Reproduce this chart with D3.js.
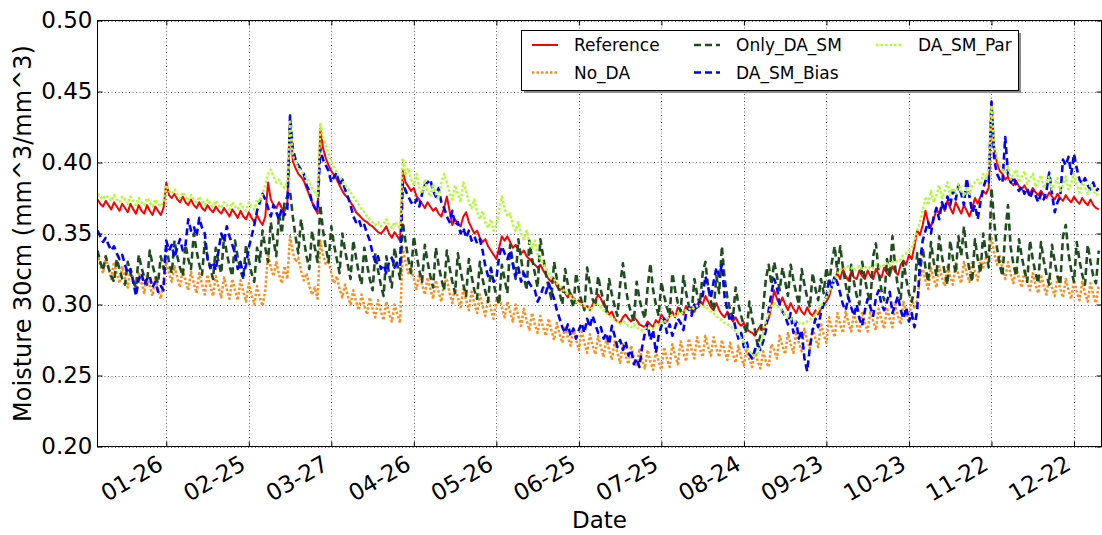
<!DOCTYPE html>
<html>
<head>
<meta charset="utf-8">
<script src="https://cdn.jsdelivr.net/npm/d3@7"></script>
<style>
  html, body { margin: 0; padding: 0; background: #ffffff; }
  svg { display: block; font-family: "DejaVu Sans", sans-serif; }
</style>
</head>
<body>
<svg id="chart" width="1102" height="535"></svg>
<script>
// Daily soil moisture at 30 cm, one value per day from 1 January to 31 December.
const startDay = "2015-01-01";
const endDay = "2016-01-01";

const xTickLabels = ["01-26", "02-25", "03-27", "04-26", "05-26", "06-25",
                     "07-25", "08-24", "09-23", "10-23", "11-22", "12-22"];
const yTickValues = [0.20, 0.25, 0.30, 0.35, 0.40, 0.45, 0.50];

const seriesNames = ["Reference", "No_DA", "Only_DA_SM", "DA_SM_Bias", "DA_SM_Par"];

const reference = [
  0.374,0.371,0.369,0.373,0.370,0.367,0.372,0.369,0.366,0.371,
  0.368,0.365,0.371,0.367,0.364,0.370,0.366,0.364,0.370,0.366,
  0.363,0.369,0.366,0.363,0.368,0.386,0.377,0.375,0.378,0.374,
  0.372,0.376,0.372,0.370,0.374,0.370,0.368,0.372,0.368,0.366,
  0.370,0.367,0.365,0.369,0.366,0.364,0.368,0.365,0.362,0.367,
  0.364,0.361,0.366,0.362,0.360,0.365,0.361,0.358,0.363,0.359,
  0.356,0.362,0.386,0.374,0.370,0.368,0.372,0.368,0.366,0.370,
  0.432,0.401,0.396,0.392,0.390,0.387,0.382,0.377,0.372,0.368,
  0.364,0.424,0.410,0.403,0.398,0.394,0.391,0.388,0.384,0.380,
  0.377,0.375,0.372,0.369,0.365,0.363,0.361,0.359,0.358,0.356,
  0.355,0.353,0.351,0.350,0.352,0.355,0.350,0.347,0.351,0.348,
  0.345,0.394,0.386,0.383,0.380,0.382,0.376,0.374,0.371,0.368,
  0.372,0.369,0.366,0.368,0.364,0.362,0.368,0.376,0.366,0.356,
  0.360,0.357,0.355,0.362,0.365,0.358,0.354,0.350,0.352,0.347,
  0.344,0.346,0.341,0.338,0.335,0.332,0.340,0.348,0.345,0.348,
  0.344,0.340,0.342,0.339,0.336,0.338,0.334,0.332,0.330,0.328,
  0.326,0.328,0.324,0.321,0.318,0.316,0.318,0.313,0.310,0.312,
  0.308,0.305,0.308,0.304,0.301,0.303,0.300,0.298,0.299,0.296,
  0.300,0.303,0.307,0.304,0.300,0.297,0.293,0.295,0.290,0.288,
  0.287,0.291,0.293,0.290,0.288,0.291,0.289,0.286,0.285,0.284,
  0.288,0.286,0.284,0.289,0.287,0.293,0.290,0.288,0.292,0.295,
  0.291,0.298,0.296,0.293,0.299,0.296,0.298,0.295,0.300,0.303,
  0.300,0.306,0.302,0.298,0.296,0.301,0.296,0.293,0.291,0.295,
  0.291,0.288,0.291,0.287,0.285,0.287,0.283,0.281,0.280,0.278,
  0.282,0.285,0.281,0.287,0.290,0.299,0.310,0.304,0.300,0.305,
  0.300,0.296,0.301,0.297,0.294,0.299,0.295,0.293,0.298,0.294,
  0.292,0.296,0.293,0.297,0.300,0.302,0.306,0.313,0.318,0.322,
  0.318,0.325,0.320,0.317,0.323,0.319,0.318,0.324,0.320,0.318,
  0.324,0.320,0.318,0.325,0.321,0.319,0.326,0.322,0.320,0.327,
  0.323,0.321,0.328,0.331,0.328,0.335,0.332,0.341,0.352,0.349,
  0.356,0.366,0.358,0.355,0.360,0.367,0.364,0.370,0.366,0.373,
  0.368,0.364,0.372,0.368,0.364,0.370,0.366,0.362,0.368,0.375,
  0.371,0.376,0.380,0.378,0.382,0.442,0.410,0.400,0.394,0.392,
  0.388,0.390,0.386,0.384,0.387,0.383,0.381,0.384,0.380,0.378,
  0.382,0.379,0.377,0.380,0.377,0.375,0.379,0.376,0.374,0.378,
  0.375,0.373,0.377,0.374,0.372,0.376,0.373,0.371,0.375,0.372,
  0.370,0.374,0.370,0.368,0.367
];

const noDA = [
  0.336,0.328,0.322,0.333,0.325,0.318,0.330,0.322,0.315,0.327,
  0.319,0.312,0.325,0.317,0.310,0.323,0.315,0.308,0.321,0.313,
  0.306,0.319,0.311,0.304,0.317,0.330,0.322,0.316,0.327,0.319,
  0.312,0.325,0.317,0.310,0.323,0.315,0.308,0.322,0.314,0.307,
  0.321,0.313,0.306,0.320,0.312,0.305,0.319,0.311,0.304,0.318,
  0.310,0.303,0.317,0.309,0.302,0.315,0.307,0.300,0.313,0.305,
  0.299,0.310,0.336,0.326,0.320,0.330,0.321,0.315,0.327,0.318,
  0.348,0.337,0.330,0.333,0.324,0.317,0.322,0.313,0.307,0.312,
  0.304,0.345,0.335,0.328,0.331,0.322,0.315,0.320,0.311,0.305,
  0.314,0.306,0.300,0.310,0.302,0.296,0.307,0.299,0.293,0.305,
  0.297,0.291,0.303,0.295,0.289,0.302,0.294,0.288,0.300,0.293,
  0.287,0.340,0.330,0.322,0.326,0.318,0.311,0.322,0.314,0.307,
  0.319,0.311,0.304,0.317,0.309,0.302,0.315,0.318,0.308,0.301,
  0.313,0.305,0.298,0.311,0.303,0.296,0.309,0.301,0.294,0.307,
  0.299,0.292,0.305,0.297,0.290,0.303,0.306,0.298,0.291,0.302,
  0.295,0.288,0.300,0.292,0.285,0.297,0.289,0.282,0.294,0.286,
  0.280,0.292,0.284,0.278,0.290,0.282,0.275,0.287,0.279,0.273,
  0.285,0.277,0.271,0.283,0.275,0.268,0.281,0.273,0.266,0.279,
  0.271,0.265,0.278,0.270,0.263,0.276,0.268,0.261,0.274,0.266,
  0.259,0.272,0.264,0.258,0.271,0.263,0.256,0.269,0.261,0.255,
  0.268,0.260,0.254,0.267,0.260,0.254,0.270,0.262,0.256,0.272,
  0.264,0.258,0.274,0.266,0.260,0.276,0.268,0.262,0.277,0.269,
  0.263,0.278,0.270,0.264,0.277,0.269,0.263,0.275,0.267,0.261,
  0.273,0.265,0.259,0.271,0.263,0.257,0.269,0.261,0.256,0.268,
  0.260,0.255,0.267,0.260,0.256,0.272,0.268,0.262,0.278,0.271,
  0.265,0.280,0.272,0.266,0.281,0.273,0.267,0.283,0.275,0.269,
  0.284,0.276,0.270,0.287,0.279,0.273,0.291,0.283,0.277,0.294,
  0.286,0.280,0.295,0.287,0.281,0.294,0.286,0.280,0.295,0.287,
  0.281,0.296,0.288,0.282,0.297,0.289,0.283,0.298,0.290,0.284,
  0.300,0.292,0.286,0.302,0.294,0.288,0.305,0.297,0.303,0.318,
  0.325,0.317,0.311,0.326,0.318,0.312,0.327,0.319,0.313,0.328,
  0.320,0.314,0.329,0.321,0.315,0.330,0.322,0.316,0.331,0.323,
  0.317,0.332,0.326,0.333,0.338,0.347,0.336,0.328,0.334,0.325,
  0.318,0.330,0.321,0.315,0.327,0.318,0.312,0.324,0.316,0.310,
  0.322,0.314,0.308,0.321,0.313,0.307,0.320,0.312,0.306,0.319,
  0.311,0.305,0.318,0.310,0.304,0.317,0.309,0.303,0.316,0.308,
  0.302,0.315,0.307,0.301,0.314
];

const onlyDASM = [
  0.338,0.330,0.324,0.334,0.326,0.320,0.316,0.332,0.325,0.318,
  0.314,0.330,0.322,0.316,0.312,0.335,0.326,0.319,0.314,0.338,
  0.328,0.320,0.315,0.334,0.325,0.340,0.330,0.322,0.345,0.334,
  0.326,0.320,0.342,0.332,0.325,0.350,0.338,0.328,0.321,0.344,
  0.334,0.326,0.318,0.340,0.330,0.322,0.348,0.336,0.327,0.320,
  0.345,0.333,0.324,0.318,0.342,0.331,0.322,0.316,0.340,0.330,
  0.352,0.340,0.330,0.358,0.345,0.334,0.364,0.350,0.372,0.376,
  0.380,0.362,0.348,0.336,0.360,0.346,0.334,0.325,0.352,0.340,
  0.330,0.370,0.352,0.340,0.330,0.355,0.342,0.332,0.322,0.350,
  0.338,0.328,0.318,0.345,0.333,0.322,0.314,0.340,0.328,0.318,
  0.310,0.336,0.324,0.314,0.306,0.334,0.322,0.312,0.340,0.328,
  0.318,0.358,0.344,0.332,0.322,0.348,0.335,0.324,0.316,0.342,
  0.330,0.320,0.312,0.340,0.328,0.318,0.310,0.338,0.326,0.316,
  0.308,0.336,0.324,0.314,0.306,0.332,0.320,0.310,0.304,0.330,
  0.318,0.309,0.302,0.326,0.315,0.306,0.300,0.328,0.318,0.308,
  0.342,0.330,0.318,0.346,0.332,0.320,0.310,0.345,0.332,0.322,
  0.312,0.346,0.334,0.322,0.312,0.304,0.330,0.318,0.308,0.300,
  0.325,0.314,0.305,0.298,0.322,0.310,0.302,0.296,0.326,0.314,
  0.304,0.298,0.320,0.310,0.302,0.295,0.318,0.307,0.299,0.292,
  0.314,0.329,0.312,0.301,0.294,0.288,0.316,0.304,0.296,0.290,
  0.312,0.329,0.310,0.300,0.292,0.316,0.306,0.298,0.292,0.322,
  0.310,0.301,0.295,0.320,0.308,0.299,0.294,0.318,0.307,0.300,
  0.322,0.330,0.312,0.302,0.296,0.320,0.308,0.341,0.318,0.305,
  0.296,0.290,0.312,0.300,0.292,0.285,0.280,0.302,0.290,0.282,
  0.271,0.278,0.298,0.318,0.328,0.314,0.330,0.320,0.310,0.326,
  0.316,0.306,0.328,0.317,0.308,0.300,0.325,0.314,0.305,0.298,
  0.322,0.311,0.303,0.318,0.308,0.326,0.315,0.330,0.341,0.322,
  0.341,0.326,0.314,0.304,0.328,0.316,0.306,0.300,0.330,0.318,
  0.308,0.302,0.334,0.343,0.322,0.310,0.303,0.332,0.320,0.348,
  0.326,0.312,0.304,0.330,0.318,0.308,0.302,0.310,0.336,0.322,
  0.340,0.326,0.316,0.344,0.330,0.320,0.348,0.334,0.322,0.314,
  0.345,0.332,0.322,0.348,0.334,0.355,0.336,0.324,0.316,0.346,
  0.332,0.322,0.350,0.336,0.326,0.382,0.358,0.340,0.328,0.320,
  0.350,0.370,0.340,0.328,0.320,0.346,0.334,0.324,0.316,0.345,
  0.332,0.322,0.315,0.344,0.331,0.321,0.314,0.342,0.330,0.320,
  0.314,0.348,0.356,0.336,0.324,0.316,0.344,0.331,0.321,0.314,
  0.342,0.330,0.320,0.315,0.338
];

const daSMBias = [
  0.352,0.348,0.344,0.347,0.342,0.338,0.341,0.336,0.332,0.335,
  0.328,0.322,0.325,0.316,0.306,0.318,0.322,0.314,0.318,0.320,
  0.312,0.316,0.309,0.313,0.310,0.345,0.338,0.342,0.333,0.340,
  0.346,0.338,0.342,0.360,0.352,0.355,0.348,0.361,0.354,0.350,
  0.332,0.326,0.330,0.324,0.338,0.350,0.344,0.355,0.348,0.342,
  0.336,0.325,0.330,0.320,0.328,0.340,0.348,0.356,0.366,0.372,
  0.378,0.374,0.368,0.362,0.370,0.365,0.360,0.368,0.363,0.367,
  0.433,0.410,0.402,0.398,0.395,0.392,0.384,0.380,0.372,0.368,
  0.366,0.410,0.402,0.398,0.394,0.386,0.390,0.393,0.384,0.388,
  0.381,0.376,0.370,0.362,0.358,0.360,0.354,0.356,0.350,0.345,
  0.336,0.330,0.334,0.325,0.328,0.322,0.330,0.333,0.326,0.330,
  0.328,0.386,0.380,0.376,0.372,0.370,0.374,0.369,0.378,0.384,
  0.386,0.388,0.380,0.376,0.382,0.372,0.368,0.362,0.358,0.366,
  0.356,0.358,0.350,0.354,0.347,0.352,0.345,0.348,0.343,0.346,
  0.338,0.327,0.320,0.325,0.316,0.318,0.334,0.341,0.336,0.332,
  0.338,0.328,0.320,0.326,0.316,0.322,0.318,0.315,0.312,0.310,
  0.302,0.306,0.312,0.308,0.315,0.310,0.304,0.296,0.290,0.284,
  0.280,0.286,0.278,0.283,0.276,0.282,0.287,0.280,0.290,0.284,
  0.292,0.286,0.280,0.284,0.276,0.280,0.272,0.285,0.278,0.270,
  0.275,0.268,0.274,0.264,0.268,0.258,0.262,0.256,0.270,0.280,
  0.286,0.275,0.282,0.266,0.278,0.285,0.290,0.280,0.286,0.278,
  0.284,0.290,0.287,0.282,0.294,0.298,0.292,0.300,0.296,0.302,
  0.306,0.320,0.312,0.305,0.316,0.326,0.320,0.328,0.305,0.296,
  0.288,0.292,0.283,0.276,0.280,0.270,0.274,0.265,0.262,0.268,
  0.272,0.268,0.274,0.282,0.296,0.308,0.318,0.312,0.300,0.295,
  0.292,0.286,0.294,0.280,0.288,0.276,0.282,0.262,0.253,0.270,
  0.282,0.290,0.284,0.294,0.300,0.306,0.318,0.312,0.320,0.315,
  0.308,0.300,0.296,0.305,0.298,0.292,0.300,0.290,0.285,0.296,
  0.304,0.298,0.292,0.305,0.310,0.300,0.296,0.302,0.309,0.294,
  0.300,0.306,0.296,0.290,0.298,0.288,0.294,0.284,0.296,0.330,
  0.345,0.352,0.358,0.350,0.362,0.368,0.360,0.372,0.366,0.376,
  0.370,0.380,0.374,0.384,0.378,0.370,0.389,0.376,0.365,0.370,
  0.360,0.372,0.382,0.388,0.386,0.443,0.402,0.392,0.388,0.386,
  0.418,0.392,0.386,0.390,0.384,0.380,0.383,0.378,0.382,0.375,
  0.380,0.377,0.372,0.378,0.374,0.380,0.393,0.378,0.365,0.372,
  0.376,0.402,0.398,0.404,0.392,0.406,0.396,0.388,0.385,0.389,
  0.384,0.381,0.386,0.380,0.382
];

const daSMPar = [
  0.378,0.376,0.374,0.377,0.375,0.373,0.377,0.374,0.372,0.376,
  0.374,0.371,0.376,0.373,0.370,0.375,0.372,0.370,0.375,0.372,
  0.369,0.374,0.371,0.369,0.373,0.384,0.380,0.378,0.381,0.377,
  0.375,0.379,0.376,0.373,0.377,0.374,0.372,0.376,0.373,0.370,
  0.374,0.371,0.369,0.373,0.370,0.368,0.372,0.370,0.367,0.372,
  0.369,0.367,0.371,0.368,0.366,0.372,0.369,0.367,0.374,0.372,
  0.378,0.384,0.392,0.395,0.390,0.386,0.388,0.384,0.382,0.386,
  0.430,0.405,0.400,0.396,0.394,0.392,0.389,0.386,0.382,0.379,
  0.376,0.428,0.418,0.412,0.406,0.401,0.397,0.393,0.390,0.387,
  0.384,0.382,0.379,0.376,0.373,0.370,0.367,0.365,0.362,0.360,
  0.358,0.356,0.358,0.355,0.357,0.360,0.356,0.354,0.358,0.356,
  0.353,0.403,0.392,0.396,0.388,0.384,0.392,0.382,0.378,0.388,
  0.380,0.376,0.385,0.378,0.374,0.386,0.392,0.386,0.378,0.374,
  0.384,0.378,0.372,0.386,0.380,0.372,0.368,0.374,0.365,0.360,
  0.366,0.358,0.354,0.360,0.352,0.356,0.366,0.376,0.368,0.362,
  0.364,0.356,0.352,0.358,0.350,0.346,0.352,0.344,0.340,0.345,
  0.335,0.332,0.329,0.326,0.322,0.319,0.318,0.315,0.313,0.311,
  0.309,0.307,0.306,0.304,0.302,0.301,0.300,0.299,0.298,0.296,
  0.298,0.301,0.300,0.298,0.296,0.294,0.292,0.291,0.289,0.288,
  0.286,0.288,0.287,0.285,0.284,0.286,0.284,0.283,0.282,0.283,
  0.285,0.284,0.283,0.286,0.285,0.288,0.287,0.290,0.291,0.293,
  0.292,0.294,0.293,0.295,0.296,0.297,0.296,0.298,0.299,0.300,
  0.298,0.299,0.297,0.295,0.294,0.292,0.290,0.289,0.287,0.286,
  0.285,0.283,0.281,0.279,0.276,0.273,0.270,0.267,0.265,0.264,
  0.266,0.272,0.280,0.288,0.294,0.298,0.301,0.299,0.297,0.295,
  0.293,0.292,0.290,0.289,0.288,0.287,0.286,0.287,0.288,0.289,
  0.291,0.293,0.296,0.299,0.302,0.305,0.309,0.313,0.318,0.322,
  0.324,0.326,0.325,0.327,0.326,0.324,0.326,0.327,0.325,0.326,
  0.327,0.325,0.326,0.328,0.327,0.326,0.328,0.329,0.327,0.330,
  0.331,0.330,0.332,0.335,0.336,0.338,0.340,0.345,0.352,0.358,
  0.366,0.376,0.370,0.380,0.372,0.377,0.384,0.375,0.380,0.386,
  0.377,0.382,0.378,0.385,0.380,0.376,0.383,0.378,0.384,0.386,
  0.388,0.384,0.392,0.389,0.396,0.440,0.412,0.404,0.398,0.395,
  0.393,0.397,0.388,0.392,0.395,0.386,0.390,0.394,0.385,0.388,
  0.392,0.383,0.387,0.391,0.382,0.386,0.390,0.381,0.385,0.389,
  0.380,0.384,0.390,0.381,0.385,0.392,0.384,0.379,0.386,0.382,
  0.378,0.384,0.380,0.377,0.379
];

// Line appearance per series
const lineStyle = {
  "Reference":  { color: "#ff0000", width: 2,   dash: null },
  "No_DA":      { color: "#ff8c1a", width: 2.5, dash: "2.5,2" },
  "Only_DA_SM": { color: "#1e4d1e", width: 2.6, dash: "7,4" },
  "DA_SM_Bias": { color: "#0000ff", width: 2.6, dash: "7,4" },
  "DA_SM_Par":  { color: "#adff2f", width: 2.5, dash: "2.5,2" }
};

const seriesValues = {
  "Reference": reference,
  "No_DA": noDA,
  "Only_DA_SM": onlyDASM,
  "DA_SM_Bias": daSMBias,
  "DA_SM_Par": daSMPar
};

const svg = d3.select("#chart");
const W = 1102, H = 535;
const plot = { left: 97.5, right: 1101.5, top: 20.5, bottom: 446.5 };

const parseDay = d3.utcParse("%Y-%m-%d");
const t0 = parseDay(startDay);
const t1 = parseDay(endDay);
const year = startDay.slice(0, 4);
const days = reference.map((_, i) => d3.utcDay.offset(t0, i));
const tickDates = xTickLabels.map(s => parseDay(year + "-" + s));

const x = d3.scaleUtc().domain([t0, t1]).range([plot.left, plot.right]);
const y = d3.scaleLinear().domain([0.20, 0.50]).range([plot.bottom, plot.top]);

svg.append("rect").attr("width", W).attr("height", H).attr("fill", "#ffffff");

// Dotted grid
const grid = svg.append("g").attr("stroke", "#333").attr("stroke-width", 1)
  .attr("stroke-dasharray", "1,2.5").attr("stroke-opacity", 0.75);
grid.selectAll("line.v").data(tickDates).join("line").attr("class", "v")
  .attr("x1", d => Math.round(x(d)) + 0.5).attr("x2", d => Math.round(x(d)) + 0.5)
  .attr("y1", plot.top).attr("y2", plot.bottom);
grid.selectAll("line.h").data(yTickValues).join("line").attr("class", "h")
  .attr("x1", plot.left).attr("x2", plot.right)
  .attr("y1", d => Math.round(y(d)) + 0.5).attr("y2", d => Math.round(y(d)) + 0.5);

// Series lines
svg.append("clipPath").attr("id", "plotClip").append("rect")
  .attr("x", plot.left).attr("y", plot.top)
  .attr("width", plot.right - plot.left).attr("height", plot.bottom - plot.top);

const line = d3.line().x((d, i) => x(days[i])).y(d => y(d));
const lines = svg.append("g").attr("clip-path", "url(#plotClip)");
seriesNames.forEach(name => {
  const s = lineStyle[name];
  lines.append("path").datum(seriesValues[name])
    .attr("d", line).attr("fill", "none")
    .attr("stroke", s.color).attr("stroke-width", s.width)
    .attr("stroke-dasharray", s.dash).attr("stroke-linejoin", "round");
});

// Axes with inward ticks on all four sides
const fontSize = 23;
const xAxis = svg.append("g").attr("transform", `translate(0,${plot.bottom})`)
  .call(d3.axisBottom(x).tickValues(tickDates).tickFormat(d3.utcFormat("%m-%d"))
    .tickSizeInner(-5).tickSizeOuter(0));
xAxis.selectAll("text")
  .attr("x", null).attr("y", null).attr("dy", null)
  .attr("text-anchor", "end")
  .attr("transform", "translate(-2,22) rotate(-30)");

svg.append("g").attr("transform", `translate(0,${plot.top})`)
  .call(d3.axisTop(x).tickValues(tickDates).tickFormat("").tickSizeInner(-5).tickSizeOuter(0));

svg.append("g").attr("transform", `translate(${plot.left},0)`)
  .call(d3.axisLeft(y).tickValues(yTickValues).tickFormat(d3.format(".2f"))
    .tickSizeInner(-5).tickSizeOuter(0).tickPadding(5));

svg.append("g").attr("transform", `translate(${plot.right},0)`)
  .call(d3.axisRight(y).tickValues(yTickValues).tickFormat("").tickSizeInner(-5).tickSizeOuter(0));

svg.selectAll(".domain").remove();
svg.selectAll(".tick line").attr("stroke", "#000").attr("stroke-width", 1);
svg.selectAll(".tick text").attr("font-size", fontSize)
  .attr("font-family", "'DejaVu Sans', sans-serif").attr("fill", "#000");

// Plot frame
svg.append("rect")
  .attr("x", plot.left).attr("y", plot.top)
  .attr("width", plot.right - plot.left).attr("height", plot.bottom - plot.top)
  .attr("fill", "none").attr("stroke", "#000").attr("stroke-width", 1);

// Axis titles
svg.append("text").attr("x", (plot.left + plot.right) / 2).attr("y", 528)
  .attr("text-anchor", "middle").attr("font-size", fontSize).text("Date");
svg.append("text")
  .attr("transform", `translate(31,${(plot.top + plot.bottom) / 2}) rotate(-90)`)
  .attr("text-anchor", "middle").attr("font-size", 24)
  .text("Moisture 30cm (mm^3/mm^3)");

// Legend, three columns filled column by column
const legend = svg.append("g");
const lg = { x: 521.5, y: 30.5, w: 497, h: 60 };
legend.append("rect").attr("x", lg.x + 2.5).attr("y", lg.y + 2.5)
  .attr("width", lg.w).attr("height", lg.h).attr("fill", "#8c8c8c");
legend.append("rect").attr("x", lg.x).attr("y", lg.y)
  .attr("width", lg.w).attr("height", lg.h)
  .attr("fill", "#ffffff").attr("stroke", "#000").attr("stroke-width", 1);
const colText = [574, 736, 918];
const rowMid = [45, 72.5];
seriesNames.forEach((name, i) => {
  const c = Math.floor(i / 2), r = i % 2;
  const s = lineStyle[name];
  legend.append("line")
    .attr("x1", colText[c] - 42).attr("x2", colText[c] - 16)
    .attr("y1", rowMid[r]).attr("y2", rowMid[r])
    .attr("stroke", s.color).attr("stroke-width", s.width)
    .attr("stroke-dasharray", s.dash);
  legend.append("text").attr("x", colText[c]).attr("y", rowMid[r] + 6.3)
    .attr("font-size", 17).text(name);
});
</script>
</body>
</html>
